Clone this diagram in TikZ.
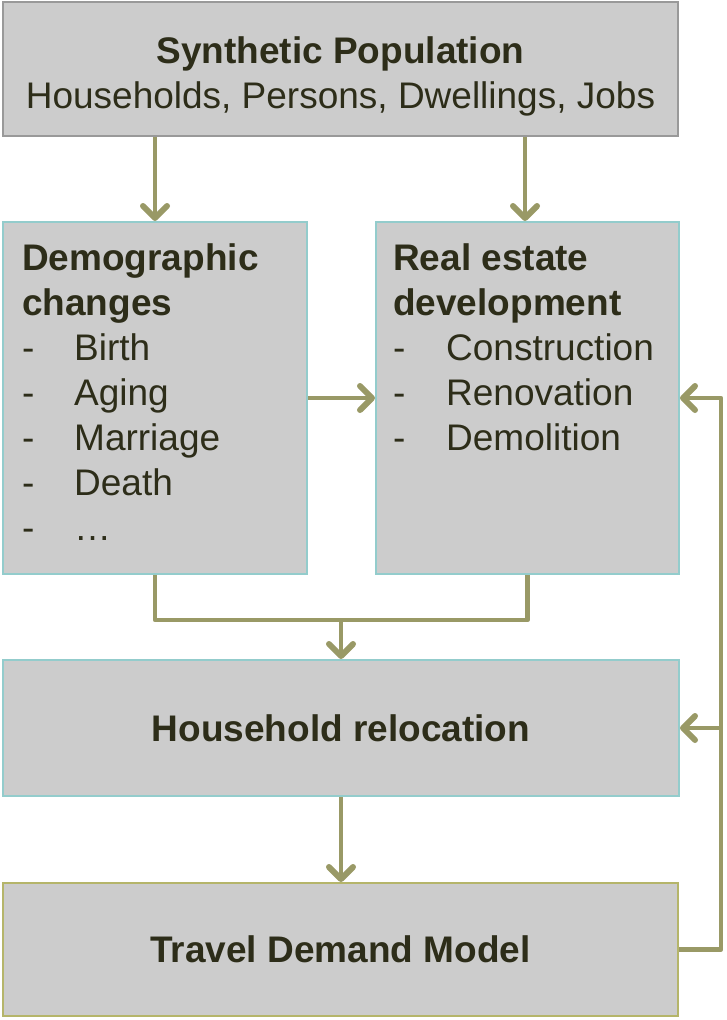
\documentclass[tikz,border=0pt]{standalone}
\usepackage{fontspec}
\setmainfont{Liberation Sans}
\usetikzlibrary{arrows.meta,positioning}
\definecolor{boxfill}{RGB}{204,204,204}
\definecolor{popline}{RGB}{153,153,153}
\definecolor{tealline}{RGB}{147,204,204}
\definecolor{oliveline}{RGB}{181,181,106}
\definecolor{arrowc}{RGB}{153,153,102}
\definecolor{txt}{RGB}{45,45,25}
\begin{document}
\begin{tikzpicture}[
            x=1pt,y=-1pt,
            ->,>={Straight Barb[length=12pt,width=24pt,line width=6pt,line cap=round,line join=round]},
            font=\fontsize{37}{45}\selectfont,
            box/.style={draw=tealline,line width=2pt,fill=boxfill,inner sep=0pt},
            link/.style={draw=arrowc,line width=4.5pt,line join=round},
            item/.style={text=txt,align=left,inner sep=0pt,anchor=north west}
        ]
        \useasboundingbox (0,0) rectangle (726,1020);
        \node[box,draw=popline,minimum width=675pt,minimum height=134pt,text=txt,align=center] (pop) at (340.5,69)
            {\rule{0pt}{41pt}\textbf{Synthetic Population}\\Households, Persons, Dwellings, Jobs};
        \node[box,minimum width=304pt,minimum height=352pt] (demo) at (155,398) {};
        \node[box,minimum width=303pt,minimum height=352pt] (estate) at (527.5,398) {};
        \node[box,minimum width=676pt,minimum height=136pt,text=txt] (reloc) at (341,728) {\textbf{Household relocation}};
        \node[box,draw=oliveline,minimum width=675pt,minimum height=133pt,text=txt] (travel) at (340.5,949.5) {\textbf{Travel Demand Model}};
        % box texts
        \node[item] (demotxt) at (22,243) {\textbf{Demographic}\\\textbf{changes}\\
            \makebox[52pt][l]{-}Birth\\\makebox[52pt][l]{-}Aging\\\makebox[52pt][l]{-}Marriage\\
            \makebox[52pt][l]{-}Death\\\makebox[52pt][l]{-}\dots};
        \node[item] (estatetxt) at (393,243) {\textbf{Real estate}\\\textbf{development}\\
            \makebox[53pt][l]{-}Construction\\\makebox[53pt][l]{-}Renovation\\\makebox[53pt][l]{-}Demolition};
        % connectors
        \coordinate (join) at (reloc.north |- 0,620);
        \coordinate (back) at ([xshift=42pt]travel.east);
        \draw[link] (demo.north |- pop.south) -- (demo.north);
        \draw[link] (525,0 |- pop.south) -- (525,0 |- estate.north);
        \draw[link] (demo.east) -- (estate.west);
        \draw[link,-] (demo.south) |- (join) -| (estate.south);
        \draw[link] (join) -- (reloc.north);
        \draw[link] (reloc.south) -- (reloc.south |- travel.north);
        \draw[link] (travel.east) -- (back) |- (estate.east);
        \draw[link] (back |- reloc.east) -- (reloc.east);
\end{tikzpicture}
\end{document}
